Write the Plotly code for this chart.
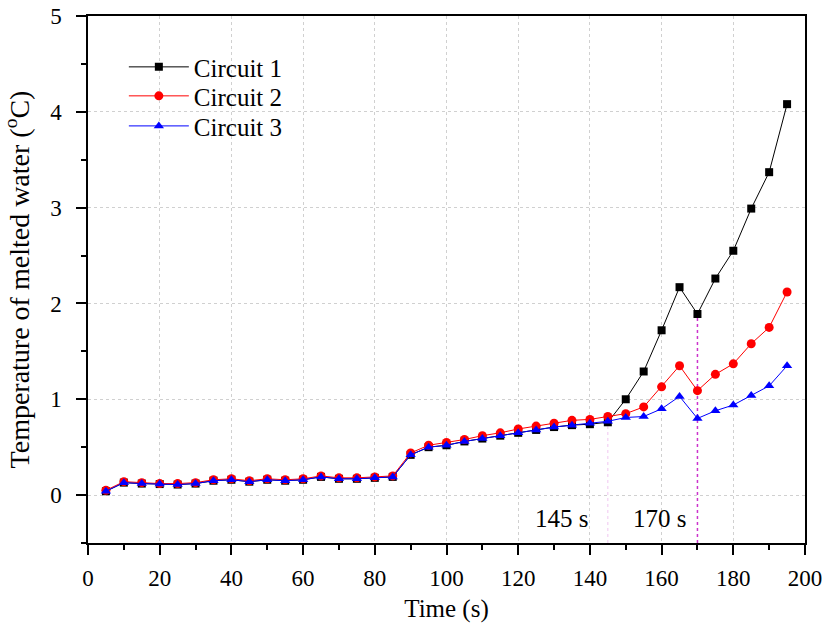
import plotly.graph_objects as go

time_s = [5, 10, 15, 20, 25, 30, 35, 40, 45, 50, 55, 60, 65, 70, 75, 80, 85, 90, 95, 100,
          105, 110, 115, 120, 125, 130, 135, 140, 145, 150, 155, 160, 165, 170, 175, 180, 185, 190, 195]

circuit1 = [0.04, 0.13, 0.12, 0.115, 0.11, 0.12, 0.15, 0.16, 0.14, 0.16, 0.15, 0.16, 0.19, 0.17, 0.17, 0.18, 0.19,
            0.42, 0.50, 0.52, 0.56, 0.59, 0.62, 0.65, 0.68, 0.71, 0.73, 0.74, 0.76,
            1.00, 1.29, 1.72, 2.17, 1.89, 2.26, 2.55, 2.99, 3.37, 4.08]
circuit2 = [0.05, 0.14, 0.13, 0.12, 0.12, 0.13, 0.16, 0.17, 0.15, 0.17, 0.16, 0.17, 0.20, 0.18, 0.18, 0.19, 0.20,
            0.44, 0.52, 0.55, 0.58, 0.62, 0.65, 0.69, 0.72, 0.75, 0.78, 0.79, 0.82,
            0.85, 0.92, 1.13, 1.35, 1.09, 1.26, 1.37, 1.58, 1.75, 2.12]
circuit3 = [0.04, 0.13, 0.12, 0.115, 0.11, 0.12, 0.15, 0.16, 0.14, 0.16, 0.15, 0.16, 0.19, 0.17, 0.17, 0.18, 0.19,
            0.42, 0.50, 0.52, 0.56, 0.59, 0.62, 0.65, 0.68, 0.71, 0.73, 0.75, 0.77,
            0.81, 0.82, 0.90, 1.03, 0.80, 0.88, 0.94, 1.04, 1.14, 1.35]

series = [
    ("Circuit 1", circuit1, "black", "square", 8),
    ("Circuit 2", circuit2, "red", "circle", 9),
    ("Circuit 3", circuit3, "blue", "triangle-up", 9),
]

marks_t = [145, 170]
marks_label = ["145 s", "170 s"]
marks_shift = [-18, -9]

font_family = "Liberation Serif, Times New Roman, serif"

fig = go.Figure()

# vertical markers
fig.add_trace(go.Scatter(x=[145, 145], y=[-0.5, circuit3[time_s.index(145)]], mode="lines",
                         line=dict(color="rgba(230,160,230,0.6)", width=1, dash="dot"),
                         showlegend=False, hoverinfo="skip"))
fig.add_trace(go.Scatter(x=[170, 170], y=[-0.5, circuit1[time_s.index(170)]], mode="lines",
                         line=dict(color="#cc33cc", width=1.5, dash="dot"),
                         showlegend=False, hoverinfo="skip"))

legend_ids = ["legend", "legend2", "legend3"]
legend_y = [0.903, 0.848, 0.791]

for (name, vals, color, sym, sz), lid in zip(series, legend_ids):
    fig.add_trace(go.Scatter(
        x=time_s, y=vals, mode="lines+markers", name=name,
        line=dict(color=color, width=1),
        marker=dict(symbol=sym, size=sz, color=color),
        legend=lid,
    ))

for t, lab, sh in zip(marks_t, marks_label, marks_shift):
    fig.add_annotation(x=t, y=-0.24, text=lab, showarrow=False, xanchor="right", xshift=sh,
                       font=dict(family=font_family, size=25, color="black"))

axis_common = dict(
    showline=True, linecolor="black", linewidth=1.5, mirror=True,
    ticks="outside", ticklen=10, tickwidth=1.5, tickcolor="black",
    showgrid=True, gridcolor="#d0d0d0", griddash="dot", gridwidth=1,
    zeroline=False, automargin=False, ticklabeloverflow="allow",
    tickfont=dict(family=font_family, size=23, color="black"),
)

fig.update_xaxes(range=[0, 200], dtick=20, ticklabelstandoff=4,
                 minor=dict(dtick=10, ticks="outside", ticklen=5, tickwidth=1.5, tickcolor="black", showgrid=False),
                 title=dict(text="Time (s)", font=dict(family=font_family, size=25, color="black")),
                 **axis_common)
fig.update_yaxes(range=[-0.5, 5], dtick=1, tick0=0, ticklabelstandoff=10,
                 minor=dict(dtick=0.5, ticks="outside", ticklen=5, tickwidth=1.5, tickcolor="black", showgrid=False),
                 title=dict(text="Temperature of melted water (<sup>o</sup>C)",
                            font=dict(family=font_family, size=28, color="black")),
                 **axis_common)

legend_common = dict(x=0.05, xanchor="left", yanchor="middle",
                     bgcolor="rgba(0,0,0,0)", borderwidth=0,
                     font=dict(family=font_family, size=25, color="black"),
                     itemwidth=60)

fig.update_layout(
    width=826, height=623,
    margin=dict(l=88, r=21, t=16, b=80),
    paper_bgcolor="white", plot_bgcolor="white",
    legend=dict(y=legend_y[0], **legend_common),
    legend2=dict(y=legend_y[1], **legend_common),
    legend3=dict(y=legend_y[2], **legend_common),
    font=dict(family=font_family),
)

# remove the default 8px page margin so the figure sits at the window's corner
fig.write_html("out.html", config={"displayModeBar": False},
               post_script="document.body.style.margin='0px';")
